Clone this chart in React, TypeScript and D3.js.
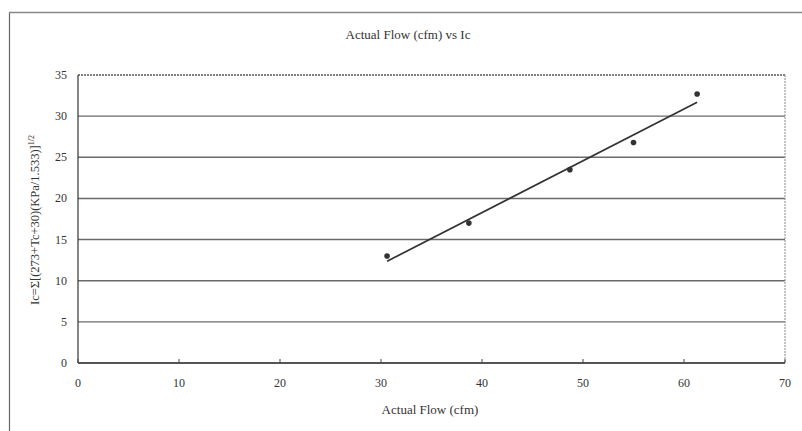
import React from "react";
import * as d3 from "d3";

const flowValues = [30.6, 38.7, 48.7, 55.0, 61.3];
const icValues = [13.0, 17.0, 23.5, 26.8, 32.7];
const xTicks = [0, 10, 20, 30, 40, 50, 60, 70];
const yTicks = [0, 5, 10, 15, 20, 25, 30, 35];
const chartTitle = "Actual Flow (cfm) vs Ic";
const xTitle = "Actual Flow (cfm)";

const W = 802, H = 431;
const M = { left: 78, top: 75, right: 785, bottom: 363 };

export default function App() {
  const x = d3.scaleLinear().domain([0, 70]).range([M.left, M.right]);
  const y = d3.scaleLinear().domain([0, 35]).range([M.bottom, M.top]);

  // least squares trendline computed from the data
  const mx = d3.mean(flowValues)!;
  const my = d3.mean(icValues)!;
  const sxy = d3.sum(flowValues.map((v, i) => (v - mx) * (icValues[i] - my)));
  const sxx = d3.sum(flowValues.map((v) => (v - mx) ** 2));
  const slope = sxy / sxx;
  const icpt = my - slope * mx;
  const x0 = d3.min(flowValues)!, x1 = d3.max(flowValues)!;
  const line = d3.line<number>().x((d) => x(d)).y((d) => y(slope * d + icpt));

  const font = "'Liberation Serif', 'DejaVu Serif', serif";
  const gridColor = "#6a6a6a";

  return (
    <svg width={W} height={H} style={{ position: "absolute", left: 0, top: 0, background: "#fff" }}>
      <rect x={0} y={0} width={W} height={H} fill="#fff" />
      {/* outer frame */}
      <line x1={9.5} y1={12} x2={9.5} y2={H} stroke="#666" strokeWidth={1.2} />
      <line x1={9} y1={12.5} x2={W} y2={12.5} stroke="#888" strokeWidth={1.5} />

      <text x={408} y={39} textAnchor="middle" fontFamily={font} fontSize={13} fill="#333">{chartTitle}</text>

      {/* gridlines */}
      {yTicks.filter((t) => t > 0 && t < 35).map((t) => (
        <line key={t} x1={M.left} x2={M.right} y1={y(t)} y2={y(t)} stroke={gridColor} strokeWidth={1.4} />
      ))}
      {/* top and right borders dotted */}
      <line x1={M.left} x2={M.right} y1={y(35)} y2={y(35)} stroke="#555" strokeWidth={1.3} strokeDasharray="2,1" />
      <line x1={M.right} x2={M.right} y1={y(35)} y2={y(0)} stroke="#888" strokeWidth={1} strokeDasharray="2,1" />
      {/* axes */}
      <line x1={M.left} x2={M.left} y1={y(35)} y2={y(0)} stroke="#333" strokeWidth={1.2} />
      <line x1={M.left} x2={M.right} y1={y(0)} y2={y(0)} stroke="#555" strokeWidth={1.8} />
      {xTicks.map((t) => (
        <line key={t} x1={x(t)} x2={x(t)} y1={y(0)} y2={y(0) - 4} stroke="#444" strokeWidth={1} />
      ))}

      {yTicks.map((t) => (
        <text key={t} x={67} y={y(t) + 4} textAnchor="end" fontFamily={font} fontSize={12} fill="#333">{t}</text>
      ))}
      {xTicks.map((t) => (
        <text key={t} x={x(t)} y={387} textAnchor="middle" fontFamily={font} fontSize={12} fill="#333">{t}</text>
      ))}

      <text x={430} y={414} textAnchor="middle" fontFamily={font} fontSize={13} fill="#333">{xTitle}</text>
      <text transform={`translate(39,220) rotate(-90)`} textAnchor="middle" fontFamily={font} fontSize={12.5} fill="#333">
        Ic=Σ[(273+Tc+30)(KPa/1.533)]<tspan dy={-5} fontSize={8}>1/2</tspan>
      </text>

      {/* trendline */}
      <path d={line([x0, x1]) || ""} fill="none" stroke="#333" strokeWidth={1.7} />
      {/* points */}
      {flowValues.map((v, i) => (
        <circle key={i} cx={x(v)} cy={y(icValues[i])} r={2.8} fill="#333" />
      ))}
    </svg>
  );
}
